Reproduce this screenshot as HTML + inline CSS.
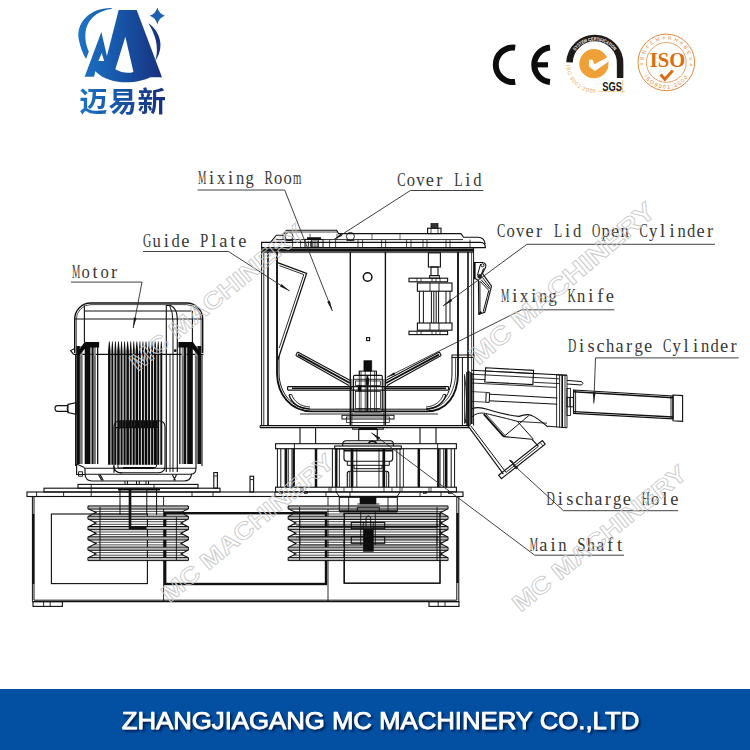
<!DOCTYPE html>
<html><head><meta charset="utf-8"><title>MC Machinery mixer diagram</title>
<style>
html,body{margin:0;padding:0;background:#fff}
body{width:750px;height:750px;overflow:hidden;font-family:"Liberation Sans",sans-serif}
svg{display:block}
svg text{font-family:"Liberation Sans",sans-serif}
.lb text{font-family:"Liberation Serif",serif;font-size:18.4px;fill:#383838;text-anchor:middle}
.mono{font-family:"Liberation Mono",monospace}
</style></head><body>
<svg width="750" height="750" viewBox="0 0 750 750">
<defs>
<linearGradient id="lg" gradientUnits="userSpaceOnUse" x1="78" y1="0" x2="164" y2="0">
<stop offset="0" stop-color="#1c74c6"/><stop offset="0.45" stop-color="#1758ab"/><stop offset="1" stop-color="#182f7c"/>
</linearGradient>
<filter id="ts" x="-5%" y="-30%" width="110%" height="180%">
<feGaussianBlur in="SourceAlpha" stdDeviation="1.3"/><feOffset dx="1.6" dy="2.2" result="b"/>
<feFlood flood-color="#04173f" flood-opacity="0.85"/><feComposite in2="b" operator="in"/>
<feMerge><feMergeNode/><feMergeNode in="SourceGraphic"/></feMerge>
</filter>
<path id="sgsTop" d="M575.3 50.9 A23.6 23.6 0 0 1 614.6 51.4"/>
<path id="sgsBot" d="M566.3 65 A28.5 28.5 0 0 0 598 92.6"/>
<path id="isoBot" d="M643.9 76.2 A26.3 26.3 0 0 0 688.7 76.2"/>
<path id="isoTop" d="M643.6 65.5 A22.9 22.9 0 1 1 689 65.5"/>
</defs>
<clipPath id="logoClip">
<path transform="translate(70,0) scale(0.133333)" clip-rule="evenodd" d="M110 575 L235 240 L277 420 L365 75 L500 75 L690 580 L602 580 C520 625 300 650 190 535 L180 575 Z M415 275 L340 520 C385 548 440 552 476 540 Z M238 398 L213 457 L256 457 Z"/>
<path transform="translate(70,0) scale(0.133333)" d="M312 60 C150 58 38 170 68 305 C78 352 95 400 120 442 L141 386 C114 330 104 250 130 190 C160 120 230 76 312 68 Z"/>
<path transform="translate(70,0) scale(0.133333)" d="M588 174 C660 222 722 335 640 458 C672 350 636 250 588 174 Z"/>
<text x="79.2 108.4 137.6" y="112.2" font-size="28.4" font-weight="bold" style="font-family:'Liberation Sans','Noto Sans CJK SC',sans-serif">迈易新</text>
</clipPath>
<rect x="70" y="0" width="100" height="120" fill="url(#lg)" clip-path="url(#logoClip)"/>
<path transform="translate(70,0) scale(0.133333)" fill="#1a5fb0" d="M655 56 Q668 104 712 118 Q668 132 655 182 Q642 132 598 118 Q642 104 655 56 Z"/>
<g id="ce" fill="none" stroke="#0d0d0d" stroke-width="6">
<path d="M515.2 47.63 A17.3 17.3 0 1 0 515.2 81.97"/>
<path d="M550 47.57 A17.3 17.3 0 0 0 550 82.03"/>
<path d="M535 64.8 L548 64.8" stroke-width="5.2"/>
</g>
<g id="sgs">
<path d="M569.5 62.4 A25.3 25.3 0 0 1 620.1 64.2 L620.1 77.9" fill="none" stroke="#1d1a18" stroke-width="6.5"/>
<text font-size="4.7" font-weight="bold" fill="#fff" textLength="45.5" lengthAdjust="spacingAndGlyphs"><textPath href="#sgsTop" startOffset="0">SYSTEM CERTIFICATION</textPath></text>
<circle cx="593.9" cy="63.7" r="14.6" fill="#efa037"/>
<path d="M588.9 59.7 L592.5 59.7 L594.3 64.3 L608 57 L608 62 L595 71.1 L588.9 66.4 Z" fill="#fff"/>
<text font-size="5.4" fill="#eb9c3a" textLength="45" lengthAdjust="spacing"><textPath href="#sgsBot" startOffset="0">ISO 9001:2000</textPath></text>
<text x="602.2" y="91" font-size="12.4" font-weight="bold" fill="#151515" textLength="19.7" lengthAdjust="spacingAndGlyphs">SGS</text>
<path d="M598 91.4 L625 91.4 M622.6 80 L622.6 93.3" stroke="#efa94f" stroke-width="0.6" fill="none"/>
</g>
<g id="iso">
<circle cx="666.3" cy="62.4" r="28.3" fill="none" stroke="#e07a25" stroke-width="0.9"/>
<circle cx="666.3" cy="62.4" r="19.9" fill="none" stroke="#e07a25" stroke-width="0.7"/>
<text font-size="5" fill="#e38a42" textLength="78" lengthAdjust="spacing"><textPath href="#isoTop" startOffset="0">#BH#EM#RH#BEK#</textPath></text>
<path d="M660.6 74.6 L664.8 79.2 L672.8 70.6" fill="none" stroke-width="3" stroke="#dd6d12"/>
<text x="667.6" y="67.3" style="font-family:'Liberation Serif',serif" font-size="22" font-weight="bold" text-anchor="middle" fill="#dd6d12" textLength="35.5" lengthAdjust="spacingAndGlyphs">ISO</text>
<text font-size="5.4" fill="#e07a25" textLength="52" lengthAdjust="spacing"><textPath href="#isoBot" startOffset="0">ISO9001:2000</textPath></text>
</g>
<rect x="0" y="689" width="750" height="61" fill="#0350a3"/>
<text x="121.8" y="728.8" font-size="24.6" fill="#fff" stroke="#fff" stroke-width="0.75" stroke-linejoin="round" filter="url(#ts)" textLength="517.5" lengthAdjust="spacingAndGlyphs">ZHANGJIAGANG MC MACHINERY CO.,LTD</text>
<g id="machine" fill="none" stroke="#111" stroke-width="1.1" stroke-linecap="butt">
<path d="M74.7 353 V319 A16 16 0 0 1 90.7 303 H186.7 A16 16 0 0 1 202.7 319 V353" stroke-width="1.38" />
<path d="M76.3 353 V319.5 A14.8 14.8 0 0 1 91 304.6 H186.4 A14.8 14.8 0 0 1 201.1 319.5 V353" stroke-width="0.75" />
<path d="M74.7 348.5 L70.6 350.6 L73.6 354.4" stroke-width="1.12" />
<path d="M73.6 354.4H203.4" stroke-width="1.25" />
<path d="M84.4 305.5V342" stroke-width="1.12" />
<path d="M192.4 311V342" stroke-width="1.12" />
<path d="M84.4 311H192.4" stroke-width="1.12" />
<path d="M75 319H202.4" stroke-width="1.12" />
<path d="M166.3 472 V305.5 H170.6 Q177.3 308.5 177.3 319 V472" stroke-width="1.12" />
<path d="M169.6 305.5 Q173 312 173 322 V472" stroke-width="1.0" />
<path d="M170 354.4V472" stroke-width="0.88" />
<circle cx="175.2" cy="350.7" r="1.4" fill="#111" stroke="none"/>
<rect x="179.2" y="346" width="1.3" height="118" fill="#111" stroke="none"/>
<rect x="181.6" y="346" width="2.4" height="118" fill="#8c8c8c" stroke="none"/>
<rect x="184" y="346" width="2" height="118" fill="#111" stroke="none"/>
<rect x="186.3" y="346" width="0.7" height="118" fill="#999" stroke="none"/>
<rect x="187.2" y="346" width="5.6" height="118" fill="#0b0b0b" stroke="none"/>
<rect x="194.8" y="346" width="2.8" height="118" fill="#8c8c8c" stroke="none"/>
<rect x="197.6" y="346" width="3.6" height="118" fill="#111" stroke="none"/>
<path d="M178.4 342 L193 342 L201.4 354.4 L197.6 354.4 L191.4 347.5 L178.4 347.5 Z" fill="#0b0b0b" stroke="none"/>
<path d="M182.4 356V464" stroke="#444" stroke-width="0.4"/>
<path d="M183.2 356V464" stroke="#444" stroke-width="0.4"/>
<path d="M195.6 356V464" stroke="#444" stroke-width="0.4"/>
<path d="M196.6 356V464" stroke="#444" stroke-width="0.4"/>
<rect x="97.0" y="346" width="1.3" height="118" fill="#111" stroke="none"/>
<rect x="93.5" y="346" width="2.4" height="118" fill="#8c8c8c" stroke="none"/>
<rect x="91.5" y="346" width="2.0" height="118" fill="#111" stroke="none"/>
<rect x="90.5" y="346" width="0.7" height="118" fill="#999" stroke="none"/>
<rect x="84.7" y="346" width="5.6" height="118" fill="#0b0b0b" stroke="none"/>
<rect x="79.9" y="346" width="2.8" height="118" fill="#8c8c8c" stroke="none"/>
<rect x="76.3" y="346" width="3.6" height="118" fill="#111" stroke="none"/>
<path d="M99.1 342 L84.5 342 L76.1 354.4 L79.9 354.4 L86.1 347.5 L99.1 347.5 Z" fill="#0b0b0b" stroke="none"/>
<path d="M95.1 356V464" stroke="#444" stroke-width="0.4"/>
<path d="M94.3 356V464" stroke="#444" stroke-width="0.4"/>
<path d="M81.9 356V464" stroke="#444" stroke-width="0.4"/>
<path d="M80.9 356V464" stroke="#444" stroke-width="0.4"/>
<path d="M75.6 354.4V466" stroke-width="1.12" />
<path d="M202 354.4V466" stroke-width="1.12" />
<path d="M108.95 341.6 H109.65 L110.55 351 V464.7 H108.05 V351 Z" fill="#0d0d0d" stroke="none"/>
<path d="M112.01 341.6 H112.71 L113.34 351 V464.7 H111.38 V351 Z" fill="#0d0d0d" stroke="none"/>
<path d="M115.07 341.6 H115.77 L116.40 351 V464.7 H114.44 V351 Z" fill="#0d0d0d" stroke="none"/>
<path d="M118.13 341.6 H118.83 L119.73 351 V464.7 H117.23 V351 Z" fill="#0d0d0d" stroke="none"/>
<path d="M121.19 341.6 H121.89 L122.52 351 V464.7 H120.56 V351 Z" fill="#0d0d0d" stroke="none"/>
<path d="M124.24 341.6 H124.94 L125.57 351 V464.7 H123.61 V351 Z" fill="#0d0d0d" stroke="none"/>
<path d="M127.30 341.6 H128.00 L128.90 351 V464.7 H126.40 V351 Z" fill="#0d0d0d" stroke="none"/>
<path d="M130.36 341.6 H131.06 L131.69 351 V464.7 H129.73 V351 Z" fill="#0d0d0d" stroke="none"/>
<path d="M133.42 341.6 H134.12 L134.75 351 V464.7 H132.79 V351 Z" fill="#0d0d0d" stroke="none"/>
<path d="M136.48 341.6 H137.18 L138.08 351 V464.7 H135.58 V351 Z" fill="#0d0d0d" stroke="none"/>
<path d="M139.54 341.6 H140.24 L140.87 351 V464.7 H138.91 V351 Z" fill="#0d0d0d" stroke="none"/>
<path d="M142.60 341.6 H143.30 L143.93 351 V464.7 H141.97 V351 Z" fill="#0d0d0d" stroke="none"/>
<path d="M145.66 341.6 H146.36 L147.26 351 V464.7 H144.76 V351 Z" fill="#0d0d0d" stroke="none"/>
<path d="M148.71 341.6 H149.41 L150.04 351 V464.7 H148.08 V351 Z" fill="#0d0d0d" stroke="none"/>
<path d="M151.77 341.6 H152.47 L153.10 351 V464.7 H151.14 V351 Z" fill="#0d0d0d" stroke="none"/>
<path d="M154.83 341.6 H155.53 L156.43 351 V464.7 H153.93 V351 Z" fill="#0d0d0d" stroke="none"/>
<path d="M157.89 341.6 H158.59 L159.22 351 V464.7 H157.26 V351 Z" fill="#0d0d0d" stroke="none"/>
<path d="M160.95 341.6 H161.65 L162.28 351 V464.7 H160.32 V351 Z" fill="#0d0d0d" stroke="none"/>
<path d="M114 472.7 V427 Q114 420.7 120.5 420.7 H158.5 Q165 420.7 165 427 V466 Q165 472.7 158.5 472.7 H120.5 Q114 472.7 114 466" stroke-width="1.12" />
<path d="M118 468 V430 Q118 427.5 121 427.5 H153.5 Q156.7 427.5 156.7 430 V465 Q156.7 468 153.5 468 Z" stroke-width="1.0" />
<path d="M116 427.6H158" stroke-width="1.12" />
<path d="M123 468H154" stroke-width="2.0" />
<rect x="120.8" y="428" width="35.2" height="37" fill="#000" fill-opacity="0.22" stroke="none"/>
<path d="M119.18 421 H120.88 V427.5 H119.18 Z" fill="#0d0d0d" stroke="none"/>
<path d="M122.24 421 H123.94 V427.5 H122.24 Z" fill="#0d0d0d" stroke="none"/>
<path d="M125.29 421 H126.99 V427.5 H125.29 Z" fill="#0d0d0d" stroke="none"/>
<path d="M128.35 421 H130.05 V427.5 H128.35 Z" fill="#0d0d0d" stroke="none"/>
<path d="M131.41 421 H133.11 V427.5 H131.41 Z" fill="#0d0d0d" stroke="none"/>
<path d="M134.47 421 H136.17 V427.5 H134.47 Z" fill="#0d0d0d" stroke="none"/>
<path d="M137.53 421 H139.23 V427.5 H137.53 Z" fill="#0d0d0d" stroke="none"/>
<path d="M140.59 421 H142.29 V427.5 H140.59 Z" fill="#0d0d0d" stroke="none"/>
<path d="M143.65 421 H145.35 V427.5 H143.65 Z" fill="#0d0d0d" stroke="none"/>
<path d="M146.71 421 H148.41 V427.5 H146.71 Z" fill="#0d0d0d" stroke="none"/>
<path d="M149.76 421 H151.46 V427.5 H149.76 Z" fill="#0d0d0d" stroke="none"/>
<path d="M152.82 421 H154.52 V427.5 H152.82 Z" fill="#0d0d0d" stroke="none"/>
<path d="M155.88 421 H157.58 V427.5 H155.88 Z" fill="#0d0d0d" stroke="none"/>
<path d="M68 405.6 H57.5 Q55 405.6 55 408.5 Q55 411.4 57.5 411.4 H68" stroke-width="1.12" />
<path d="M68 404.4 L76 402.6 V414.2 L68 412.6 Z" stroke-width="1.12" />
<path d="M68 404.4 Q66.3 408.5 68 412.6" stroke-width="1.0" />
<path d="M76.6 464 V474.5 H85 V468.3" stroke-width="1.12" />
<path d="M76.6 464 L84.5 467.6" stroke-width="1.12" />
<path d="M84 468.3H196" stroke-width="1.12" />
<path d="M85 474.3H192" stroke-width="1.12" />
<path d="M85 474.3 Q85.6 481 92 481 H184 Q190.5 481 191.5 474.3" stroke-width="1.12" />
<path d="M113.5 466 Q114.5 473 122 473" stroke-width="1.0" />
<path d="M98.5 474.5 L101.8 480.6 M100 474.5 L103.4 480.6" stroke-width="1.12" />
<path d="M172.2 474.5 L175.4 480.6 M176.6 474.5 L173.6 480.6" stroke-width="1.12" />
<path d="M196 464 V468.3 Q196 474 191 474.3" stroke-width="1.12" />
<path d="M125 481V484.4" stroke-width="1.0" />
<path d="M127.5 481V484.4" stroke-width="1.0" />
<path d="M136.5 481V484.4" stroke-width="1.0" />
<path d="M139.3 481V484.4" stroke-width="1.0" />
<path d="M146 481V484.4" stroke-width="1.0" />
<path d="M148.5 481V484.4" stroke-width="1.0" />
<rect x="78.6" y="471.8" width="3.8" height="4.4" stroke-width="0.88"/>
<rect x="78" y="484.4" width="120" height="3.8" stroke-width="1.12"/>
<path d="M91.2 484.4V492" stroke-width="0.88" />
<path d="M154 484.4V488.2" stroke-width="0.88" />
<rect x="213.8" y="472.6" width="3.6" height="15.6" stroke-width="1.12"/>
<path d="M213.8 476H217.4" stroke-width="0.88" />
<rect x="250" y="476.2" width="3.6" height="15.8" stroke-width="1.12"/>
<path d="M250 479.6H253.6" stroke-width="0.88" />
<rect x="44" y="488.2" width="176" height="3.8" stroke-width="1.12"/>
<rect x="27" y="492" width="436" height="4.5" stroke-width="1.12"/>
<path d="M36.6 492V496.5" stroke-width="0.88" />
<path d="M63.6 492V496.5" stroke-width="0.88" />
<path d="M91.2 492V496.5" stroke-width="0.88" />
<path d="M192 492V496.5" stroke-width="0.88" />
<path d="M213 492V496.5" stroke-width="0.88" />
<path d="M275 492V496.5" stroke-width="0.88" />
<path d="M326 492V496.5" stroke-width="0.88" />
<path d="M350 492V496.5" stroke-width="0.88" />
<path d="M420 492V496.5" stroke-width="0.88" />
<path d="M441 492V496.5" stroke-width="0.88" />
<path d="M32.4 496.5 V601.3 M34 496.5 V600" stroke-width="1.0" />
<path d="M456.8 496.5 V600 M458.8 496.5 V601.3" stroke-width="1.0" />
<path d="M34 600.2H456.8" stroke-width="1.0" />
<path d="M32.4 601.6H458.8" stroke-width="1.25" />
<path d="M33.2 514V584" stroke-width="2.25" />
<path d="M457.6 513V583" stroke-width="2.25" />
<rect x="33" y="601.6" width="29.4" height="4.8" stroke-width="1.12"/>
<path d="M43.6 601.6V606.4" stroke-width="0.88" />
<path d="M50.2 601.6V606.4" stroke-width="0.88" />
<rect x="429" y="601.6" width="30" height="4.8" stroke-width="1.12"/>
<path d="M438.2 601.6V606.4" stroke-width="0.88" />
<path d="M445 601.6V606.4" stroke-width="0.88" />
<rect x="51.4" y="514" width="96.0" height="69.6" stroke-width="1.12"/>
<rect x="344" y="513.4" width="96" height="69.8" stroke-width="1.12"/>
<path d="M163.6 496.5V601" stroke-width="0.88" />
<path d="M328 496.5V601" stroke-width="0.88" />
<rect x="165.2" y="513.2" width="160.8" height="70.8" stroke-width="2.38"/>
<rect x="88.6" y="506.0" width="99.2" height="3" fill="#b4b4b4" stroke="none"/>
<rect x="88.6" y="516.3" width="99.2" height="3" fill="#b4b4b4" stroke="none"/>
<rect x="88.6" y="526.6" width="99.2" height="3" fill="#b4b4b4" stroke="none"/>
<rect x="88.6" y="536.9" width="99.2" height="3" fill="#b4b4b4" stroke="none"/>
<rect x="88.6" y="547.2" width="99.2" height="3" fill="#b4b4b4" stroke="none"/>
<rect x="88.6" y="557.5" width="99.2" height="3" fill="#b4b4b4" stroke="none"/>
<path d="M89 505.9 L88 506.3 L88 508.7 L96 512.6 L88 516.6 L88 519.0 L96 522.9 L88 526.9 L88 529.3 L96 533.2 L88 537.2 L88 539.6 L96 543.5 L88 547.5 L88 549.9 L96 553.9 L88 557.8 L88 560.2 L89 560.6" stroke-width="1.12" />
<path d="M187.4 505.9 L188.4 506.3 L188.4 508.7 L181 512.6 L188.4 516.6 L188.4 519.0 L181 522.9 L188.4 526.9 L188.4 529.3 L181 533.2 L188.4 537.2 L188.4 539.6 L181 543.5 L188.4 547.5 L188.4 549.9 L181 553.9 L188.4 557.8 L188.4 560.2 L187.4 560.6" stroke-width="1.12" />
<path d="M88.5 505.9H187.9" stroke-width="1.0" />
<path d="M88.5 509.1H187.9" stroke-width="1.0" />
<path d="M94 511.4H183" stroke-width="0.75" />
<path d="M94 514.0H183" stroke-width="0.75" />
<path d="M88.5 516.2H187.9" stroke-width="1.0" />
<path d="M88.5 519.4H187.9" stroke-width="1.0" />
<path d="M94 521.7H183" stroke-width="0.75" />
<path d="M94 524.3H183" stroke-width="0.75" />
<path d="M88.5 526.5H187.9" stroke-width="1.0" />
<path d="M88.5 529.7H187.9" stroke-width="1.0" />
<path d="M94 532.0H183" stroke-width="0.75" />
<path d="M94 534.6H183" stroke-width="0.75" />
<path d="M88.5 536.8H187.9" stroke-width="1.0" />
<path d="M88.5 540.0H187.9" stroke-width="1.0" />
<path d="M94 542.3H183" stroke-width="0.75" />
<path d="M94 544.9H183" stroke-width="0.75" />
<path d="M88.5 547.1H187.9" stroke-width="1.0" />
<path d="M88.5 550.3H187.9" stroke-width="1.0" />
<path d="M94 552.6H183" stroke-width="0.75" />
<path d="M94 555.2H183" stroke-width="0.75" />
<path d="M88.5 557.4H187.9" stroke-width="1.0" />
<path d="M88.5 560.6H187.9" stroke-width="1.0" />
<rect x="288.8" y="506.0" width="158.6" height="3" fill="#b4b4b4" stroke="none"/>
<rect x="288.8" y="516.3" width="158.6" height="3" fill="#b4b4b4" stroke="none"/>
<rect x="288.8" y="526.6" width="158.6" height="3" fill="#b4b4b4" stroke="none"/>
<rect x="288.8" y="536.9" width="158.6" height="3" fill="#b4b4b4" stroke="none"/>
<rect x="288.8" y="547.2" width="158.6" height="3" fill="#b4b4b4" stroke="none"/>
<rect x="288.8" y="557.5" width="158.6" height="3" fill="#b4b4b4" stroke="none"/>
<path d="M289.2 505.9 L288.2 506.3 L288.2 508.7 L295.8 512.6 L288.2 516.6 L288.2 519.0 L295.8 522.9 L288.2 526.9 L288.2 529.3 L295.8 533.2 L288.2 537.2 L288.2 539.6 L295.8 543.5 L288.2 547.5 L288.2 549.9 L295.8 553.9 L288.2 557.8 L288.2 560.2 L289.2 560.6" stroke-width="1.12" />
<path d="M447 505.9 L448 506.3 L448 508.7 L440.6 512.6 L448 516.6 L448 519.0 L440.6 522.9 L448 526.9 L448 529.3 L440.6 533.2 L448 537.2 L448 539.6 L440.6 543.5 L448 547.5 L448 549.9 L440.6 553.9 L448 557.8 L448 560.2 L447 560.6" stroke-width="1.12" />
<path d="M288.7 505.9H447.5" stroke-width="1.0" />
<path d="M288.7 509.1H447.5" stroke-width="1.0" />
<path d="M293.8 511.4H442.6" stroke-width="0.75" />
<path d="M293.8 514.0H442.6" stroke-width="0.75" />
<path d="M288.7 516.2H447.5" stroke-width="1.0" />
<path d="M288.7 519.4H447.5" stroke-width="1.0" />
<path d="M293.8 521.7H442.6" stroke-width="0.75" />
<path d="M293.8 524.3H442.6" stroke-width="0.75" />
<path d="M288.7 526.5H447.5" stroke-width="1.0" />
<path d="M288.7 529.7H447.5" stroke-width="1.0" />
<path d="M293.8 532.0H442.6" stroke-width="0.75" />
<path d="M293.8 534.6H442.6" stroke-width="0.75" />
<path d="M288.7 536.8H447.5" stroke-width="1.0" />
<path d="M288.7 540.0H447.5" stroke-width="1.0" />
<path d="M293.8 542.3H442.6" stroke-width="0.75" />
<path d="M293.8 544.9H442.6" stroke-width="0.75" />
<path d="M288.7 547.1H447.5" stroke-width="1.0" />
<path d="M288.7 550.3H447.5" stroke-width="1.0" />
<path d="M293.8 552.6H442.6" stroke-width="0.75" />
<path d="M293.8 555.2H442.6" stroke-width="0.75" />
<path d="M288.7 557.4H447.5" stroke-width="1.0" />
<path d="M288.7 560.6H447.5" stroke-width="1.0" />
<path d="M100 507V560.5" stroke-width="1.0" />
<path d="M176.4 517V560.5" stroke-width="0.88" />
<path d="M299.6 507V560.5" stroke-width="0.88" />
<path d="M437 507V560.5" stroke-width="0.88" />
<path d="M130 489 V528 H146.6" stroke-width="2.62" />
<path d="M120 489V515" stroke-width="1.0" />
<path d="M146.8 489V514" stroke-width="1.0" />
<path d="M156.6 489V515" stroke-width="1.0" />
<path d="M118 489.4H160" stroke-width="2.0" />
<path d="M260 425.6H469.5" stroke-width="1.12" />
<path d="M260 427.6H469.5" stroke-width="1.12" />
<path d="M260 425.6V427.6" stroke-width="1.0" />
<path d="M300 427.6V443.7" stroke-width="1.12" />
<path d="M315.6 427.6V443.7" stroke-width="1.12" />
<path d="M420 427.6V443.7" stroke-width="1.12" />
<path d="M436 427.6V443.7" stroke-width="1.12" />
<rect x="275.6" y="443.7" width="180.8" height="5.0" stroke-width="1.12"/>
<path d="M294.4 443.7V448.7" stroke-width="0.88" />
<path d="M437.6 443.7V448.7" stroke-width="0.88" />
<rect x="275.6" y="487.2" width="180.8" height="4.7" stroke-width="1.12"/>
<path d="M301 487.2V491.9" stroke-width="0.75" />
<path d="M303 487.2V491.9" stroke-width="0.75" />
<path d="M329 487.2V491.9" stroke-width="0.75" />
<path d="M331 487.2V491.9" stroke-width="0.75" />
<path d="M336 487.2V491.9" stroke-width="0.75" />
<path d="M344 487.2V491.9" stroke-width="0.75" />
<path d="M352 487.2V491.9" stroke-width="0.75" />
<path d="M384 487.2V491.9" stroke-width="0.75" />
<path d="M392 487.2V491.9" stroke-width="0.75" />
<path d="M400 487.2V491.9" stroke-width="0.75" />
<path d="M402 487.2V491.9" stroke-width="0.75" />
<path d="M429 487.2V491.9" stroke-width="0.75" />
<path d="M431 487.2V491.9" stroke-width="0.75" />
<rect x="279.4" y="491.9" width="3.2" height="1.7" stroke-width="0.75"/>
<rect x="304.4" y="491.9" width="3.2" height="1.7" stroke-width="0.75"/>
<rect x="423.4" y="491.9" width="3.2" height="1.7" stroke-width="0.75"/>
<rect x="448.4" y="491.9" width="3.2" height="1.7" stroke-width="0.75"/>
<path d="M277.4 448.7V487.2" stroke-width="1.0" />
<path d="M280.8 448.7V487.2" stroke-width="1.0" />
<path d="M285.8 448.7V487.2" stroke-width="2.5" />
<path d="M288.2 448.7V487.2" stroke-width="1.0" />
<path d="M292 448.7V487.2" stroke-width="1.0" />
<path d="M293.8 448.7V487.2" stroke-width="2.25" />
<path d="M316 448.7V487.2" stroke-width="2.5" />
<path d="M332.4 448.7V487.2" stroke-width="1.0" />
<path d="M335.4 448.7V487.2" stroke-width="1.0" />
<path d="M336.6 448.7V487.2" stroke-width="1.75" />
<path d="M339.4 448.7V487.2" stroke-width="0.88" />
<path d="M454.6 448.7V487.2" stroke-width="1.0" />
<path d="M451.2 448.7V487.2" stroke-width="1.0" />
<path d="M446.2 448.7V487.2" stroke-width="2.5" />
<path d="M443.8 448.7V487.2" stroke-width="1.0" />
<path d="M440 448.7V487.2" stroke-width="1.0" />
<path d="M438.2 448.7V487.2" stroke-width="2.25" />
<path d="M418.8 448.7V487.2" stroke-width="2.5" />
<path d="M400 448.7V487.2" stroke-width="1.0" />
<path d="M396.8 448.7V487.2" stroke-width="1.0" />
<path d="M403.4 448.7V487.2" stroke-width="0.88" />
<rect x="342" y="415.3" width="52" height="3.7" stroke-width="1.0"/>
<rect x="350.7" y="415.3" width="34.6" height="10.3" stroke-width="1.0"/>
<rect x="346.5" y="417" width="43.0" height="5.5" stroke-width="0.75"/>
<rect x="352.7" y="427.6" width="30.6" height="1.6" stroke-width="1.0"/>
<path d="M358.7 428.8H377.3" stroke-width="2.5" />
<path d="M358.7 429V440.7" stroke-width="1.12" />
<path d="M377.3 429V440.7" stroke-width="1.12" />
<path d="M342.7 446 V444 Q342.7 440.7 346.4 440.7 H390.3 Q393.4 440.7 393.4 444 V446" stroke-width="1.12" />
<path d="M343 443.3H393" stroke-width="0.88" />
<path d="M368.6 443.2 Q369.4 441.2 372 441.2 Q375.6 441.2 376.4 443.2" stroke-width="1.38" />
<rect x="334.7" y="446" width="66.6" height="2.9" stroke-width="1.12"/>
<path d="M344 448.9 V458.5 Q344 461.3 347 461.3 H389.7 Q392.7 461.3 392.7 458.5 V448.9" stroke-width="1.12" />
<path d="M344 450.6H392.7" stroke-width="1.88" />
<path d="M347.3 461.3 V465.3 H389.3 V461.3" stroke-width="1.0" />
<path d="M354 465.3 V468.7 H382 V465.3" stroke-width="1.0" />
<path d="M347.3 487.2 V473.5 Q347.3 471.3 349.6 471.3 H386.4 Q388.7 471.3 388.7 473.5 V487.2" stroke-width="1.12" />
<path d="M352 449V487.2" stroke-width="2.75" />
<path d="M383.8 449V487.2" stroke-width="2.75" />
<path d="M356.8 449V487.2" stroke-width="0.88" />
<path d="M379 449V487.2" stroke-width="0.88" />
<path d="M349.4 471.3V487.2" stroke-width="0.75" />
<path d="M386.6 471.3V487.2" stroke-width="0.75" />
<path d="M336 491.9 L339.3 496.4 H397.3 L400 491.9" stroke-width="1.0" />
<path d="M339.3 496.8H397.3" stroke-width="1.75" />
<rect x="360" y="496.8" width="16" height="7.2" stroke-width="0.62" fill="#0d0d0d"/>
<rect x="339.3" y="496.8" width="58.0" height="14.5" stroke-width="1.0"/>
<path d="M339.3 511.3H397.3" stroke-width="2.25" />
<path d="M348.7 496.8V511.3" stroke-width="0.88" />
<path d="M388 496.8V511.3" stroke-width="0.88" />
<path d="M357.3 511.3 V507.3 H379.3 V511.3" stroke-width="1.0" />
<path d="M357.3 504H379.3" stroke-width="0.88" />
<rect x="344.4" y="513.4" width="95.6" height="69.8" stroke-width="1.12"/>
<rect x="363.3" y="529.3" width="10.0" height="22.0" stroke-width="0.62" fill="#0d0d0d"/>
<path d="M366 529 V518 Q368.4 513.6 370.7 518 V529" stroke-width="1.0" />
<rect x="351.3" y="522.4" width="33.4" height="6.3" stroke-width="1.12"/>
<rect x="351.3" y="536.7" width="33.4" height="6.6" stroke-width="1.12"/>
<path d="M360.7 511.3V545" stroke-width="0.88" />
<path d="M375.3 511.3V545" stroke-width="0.88" />
<path d="M363.3 522.4V529" stroke-width="0.88" />
<path d="M373.3 522.4V529" stroke-width="0.88" />
<path d="M296 525.8H440" stroke-width="0.62" />
<path d="M296 537H440" stroke-width="0.62" />
<rect x="300" y="519.6" width="137" height="8.0" stroke-width="0.75"/>
<rect x="300" y="536" width="137" height="9" stroke-width="0.75"/>
<path d="M261.6 242.4 H480.5 Q485.4 242.6 485.4 247.6 H261.6 Z" stroke-width="1.12" />
<path d="M262 250.2H474" stroke-width="3.25" />
<path d="M262 252.6H474" stroke-width="0.75" />
<path d="M270.5 242.4 L276.4 235.2 H283 L286.4 230.2 H336.6 L338.6 233.6 H461" stroke-width="1.12" />
<path d="M287 232H337" stroke-width="0.75" />
<path d="M461 233.6 L463.5 237.2 H478 Q484.6 237.6 485.2 244" stroke-width="1.12" />
<path d="M276 239.6H463" stroke-width="0.88" />
<path d="M292.6 239.6V247.4" stroke-width="0.75" />
<path d="M300.6 239.6V247.4" stroke-width="0.75" />
<path d="M329.6 239.6V247.4" stroke-width="0.75" />
<path d="M335.6 239.6V247.4" stroke-width="0.75" />
<path d="M358 239.6V247.4" stroke-width="0.75" />
<path d="M362.6 239.6V247.4" stroke-width="0.75" />
<path d="M381.6 239.6V247.4" stroke-width="0.75" />
<path d="M385.6 239.6V247.4" stroke-width="0.75" />
<path d="M406.6 239.6V247.4" stroke-width="0.75" />
<path d="M411 239.6V247.4" stroke-width="0.75" />
<path d="M423 239.6V247.4" stroke-width="0.75" />
<path d="M427 239.6V247.4" stroke-width="0.75" />
<path d="M446 239.6V247.4" stroke-width="0.75" />
<path d="M450 239.6V247.4" stroke-width="0.75" />
<path d="M470 239.6V247.4" stroke-width="0.75" />
<path d="M283 233.6V239.6" stroke-width="0.62" />
<path d="M310 233.6V239.6" stroke-width="0.62" />
<path d="M337 233.6V239.6" stroke-width="0.62" />
<path d="M372 233.6V239.6" stroke-width="0.62" />
<path d="M400 233.6V239.6" stroke-width="0.62" />
<circle cx="289" cy="236.4" r="4" stroke-width="0.9"/>
<circle cx="350.4" cy="236.4" r="4" stroke-width="0.9"/>
<path d="M285 240.6H293" stroke-width="0.88" />
<path d="M346.4 240.6H354.4" stroke-width="0.88" />
<rect x="305" y="239.4" width="18" height="8.0" stroke-width="1.0"/>
<path d="M307 238.6 H321" stroke-width="2.75" />
<path d="M308.4 241.2V246.6" stroke-width="0.88" />
<path d="M310.6 241.2V246.6" stroke-width="0.88" />
<path d="M312.8 241.2V246.6" stroke-width="0.88" />
<path d="M315 241.2V246.6" stroke-width="0.88" />
<path d="M317.2 241.2V246.6" stroke-width="0.88" />
<rect x="311.6" y="240" width="6.8" height="7" stroke-width="0.75"/>
<rect x="427.6" y="228.2" width="13.4" height="5.4" stroke-width="1.12"/>
<rect x="431" y="223.6" width="7" height="4.6" stroke-width="0.75" fill="#333"/>
<path d="M431 228.2V233.6" stroke-width="0.75" />
<path d="M438 228.2V233.6" stroke-width="0.75" />
<path d="M261.6 247.6V425.6" stroke-width="1.0" />
<path d="M263.8 252V425.6" stroke-width="0.88" />
<path d="M268 252V425.6" stroke-width="1.62" />
<path d="M468 252V425.6" stroke-width="1.62" />
<path d="M473.6 247.6V425.6" stroke-width="1.0" />
<path d="M471.6 252V380" stroke-width="0.75" />
<path d="M462.4 357V425.6" stroke-width="1.0" />
<path d="M277 252 V374 C277.6 394 290 411.4 312 411.4 H426 C447 411.4 457.6 395 458 374 V252" stroke-width="1.88" />
<path d="M300 414H438" stroke-width="0.88" />
<path d="M279 356 V374 C279.6 392 291 409.2 312 409.2 H426 C442 409.2 451.6 393 452 374 V357" stroke-width="1.0" />
<path d="M455.6 357.4 V374 C455.2 392 445 409.2 426 409.2" stroke-width="0.75" />
<path d="M350.3 252V425.6" stroke-width="1.38" />
<path d="M385.4 252V425.6" stroke-width="1.38" />
<path d="M277.6 262.6 L306.6 273.4 L277.8 360" stroke-width="1.25" />
<path d="M279.4 265.6 L303.8 274.6 L279.2 348" stroke-width="0.88" />
<circle cx="367.6" cy="277" r="4.3" stroke-width="1.5"/>
<rect x="366.6" y="337.6" width="3.0" height="3.0" stroke-width="1.12"/>
<rect x="363.9" y="360.7" width="7.9" height="10.4" stroke-width="0.62" fill="#0d0d0d"/>
<rect x="359.3" y="371.1" width="17.1" height="4.3" stroke-width="1.0"/>
<rect x="353.5" y="375.4" width="28.8" height="36.6" stroke-width="1.12" rx="1.2"/>
<path d="M353.5 379.3H382.3" stroke-width="0.88" />
<rect x="355.4" y="381" width="25.2" height="4.6" stroke-width="0.75"/>
<rect x="355.4" y="391.4" width="25.2" height="17.0" stroke-width="0.75"/>
<path d="M359.3 371.1V412" stroke-width="0.75" />
<path d="M361 371.1V412" stroke-width="0.75" />
<path d="M365.2 371.1V412" stroke-width="0.75" />
<path d="M370.5 371.1V412" stroke-width="0.75" />
<path d="M374.6 371.1V412" stroke-width="0.75" />
<path d="M376.4 371.1V412" stroke-width="0.75" />
<path d="M367.4 375.4V412" stroke-width="1.88" />
<path d="M351.9 379V425.6" stroke-width="0.75" />
<path d="M383.9 379V425.6" stroke-width="0.75" />
<rect x="358" y="385.2" width="3" height="5.8" stroke-width="0.5" fill="#0d0d0d"/>
<rect x="366.2" y="378.4" width="2.6" height="6.2" stroke-width="0.5" fill="#0d0d0d"/>
<path d="M287.6 386.6 H448.6 M287.6 390 H448.6" stroke-width="1.25" />
<path d="M287.6 386.6 V390 M448.6 386.6 V390" stroke-width="1.12" />
<path d="M292 388.3H352" stroke-width="1.5" />
<path d="M384 388.3H446" stroke-width="1.5" />
<path d="M297.6 352 L350.3 380.4 M295.8 355.6 L349 385.4 M297.6 352 L295.8 355.6" stroke-width="1.12" />
<path d="M298 354.6 L349.8 383" stroke-width="1.88" />
<path d="M439.4 352 L385.6 380.4 M441.2 355.6 L387 385.4 M439.4 352 L441.2 355.6" stroke-width="1.12" />
<path d="M439 354.6 L386 383" stroke-width="1.88" />
<path d="M289 394.8 C291.6 403 298.4 408.4 310 409" stroke-width="1.25" />
<path d="M291.6 394.4 C294 401.4 300 406.4 310 407" stroke-width="0.88" />
<path d="M289 394.8 L291.6 394.4" stroke-width="1.0" />
<path d="M446 394.8 C443.4 403 436.6 408.4 426 409" stroke-width="1.25" />
<path d="M443.4 394.4 C441 401.4 435 406.4 426 407" stroke-width="0.88" />
<path d="M446 394.8 L443.4 394.4" stroke-width="1.0" />
<rect x="452" y="355" width="22" height="2.4" stroke-width="1.0"/>
<rect x="428.4" y="252.8" width="12.0" height="14.2" stroke-width="1.12"/>
<rect x="431" y="267" width="7" height="8.6" stroke-width="1.12"/>
<rect x="429.6" y="275.6" width="9.8" height="2.6" stroke-width="1.0"/>
<rect x="409" y="278.2" width="38.6" height="3.6" stroke-width="1.12"/>
<path d="M417 278.2V281.8" stroke-width="0.75" />
<path d="M421 278.2V281.8" stroke-width="0.75" />
<path d="M432 278.2V281.8" stroke-width="0.75" />
<path d="M436 278.2V281.8" stroke-width="0.75" />
<path d="M440 278.2V281.8" stroke-width="0.75" />
<rect x="417.4" y="283" width="34.6" height="8.2" stroke-width="1.12"/>
<path d="M430 283V291.2" stroke-width="0.88" />
<path d="M439 283V291.2" stroke-width="0.88" />
<rect x="417.4" y="323" width="34.6" height="7.2" stroke-width="1.12"/>
<path d="M430 323V330.2" stroke-width="0.88" />
<path d="M439 323V330.2" stroke-width="0.88" />
<path d="M419.4 291.2V323" stroke-width="1.0" />
<path d="M423.4 291.2V323" stroke-width="1.0" />
<path d="M431.4 291.2V323" stroke-width="1.0" />
<path d="M433.8 291.2V323" stroke-width="1.0" />
<path d="M436.2 291.2V323" stroke-width="1.0" />
<path d="M438.6 291.2V323" stroke-width="1.0" />
<path d="M446 291.2V323" stroke-width="1.0" />
<path d="M450 291.2V323" stroke-width="1.0" />
<rect x="409" y="331.2" width="38.6" height="3.4" stroke-width="1.12"/>
<path d="M417 331.2V334.6" stroke-width="0.75" />
<path d="M421 331.2V334.6" stroke-width="0.75" />
<path d="M432 331.2V334.6" stroke-width="0.75" />
<path d="M436 331.2V334.6" stroke-width="0.75" />
<path d="M440 331.2V334.6" stroke-width="0.75" />
<path d="M473.6 262.5 H482.5 A3.4 3.4 0 0 1 485.7 267 L482.4 273.4 L491.5 286.2 L484.8 312.2 L478.8 314.2 L478.4 280.4 L475.4 278.6 H473.6" stroke-width="1.12" />
<path d="M474.7 263V278.5" stroke-width="1.88" />
<circle cx="482.5" cy="265.3" r="1.5" stroke-width="1"/>
<circle cx="479.8" cy="276.4" r="2" fill="#222" stroke-width="0.8"/>
<path d="M480.6 264 L477.4 275.4 M483.6 268.4 L481 275" stroke-width="1.0" />
<path d="M480.4 281.6 L488.8 290.4 L483.2 311.6 M479.9 281 L480 313.4 M482.4 277.4 L490.2 287.8 M481 279.6 L489.6 289" stroke-width="1.0" />
<path d="M481.4 311.8 L478.8 314.2" stroke-width="2.0" />
<path d="M464.6 374.2 V423.8 M466.6 372 V425 M470.4 372 V425" stroke-width="0.88" />
<path d="M468.6 371V425.6" stroke-width="2.0" />
<path d="M471.8 373V424" stroke-width="1.62" />
<path d="M464.6 376 Q468 398 465.4 423" stroke-width="0.88" />
<path d="M471.8 370.2 L567 375.2" stroke-width="1.12" />
<path d="M471.8 374.2 L559.6 378.8" stroke-width="0.88" />
<path d="M471.8 379 L485.4 379.7" stroke-width="0.88" />
<path d="M533.4 382.3 L559.6 383.6" stroke-width="0.88" />
<path d="M471.8 383 L556.6 387.4" stroke-width="0.88" />
<path d="M485.6 367.8 L533.6 370.4 L532.8 384.6 L484.8 382 Z" stroke-width="1.12" />
<path d="M485.4 371 L533.4 373.6" stroke-width="0.75" />
<path d="M486.2 392.6 L489.6 392.8 L489.2 402.4 L485.8 402.2 Z" stroke-width="1.0" />
<path d="M489.6 394.2 L557.4 398" stroke-width="1.0" />
<path d="M489.4 400.8 L557.2 404.2" stroke-width="1.0" />
<path d="M471.8 391.6 L486.2 392.4" stroke-width="0.75" />
<path d="M471.8 401.4 L485.8 402.2" stroke-width="0.75" />
<path d="M556.6 374.8 V427 M559.6 375 V427.4 M565 375.2 V427.8 M567 375.2 V427.8" stroke-width="0.88" />
<path d="M562.2 375V427.6" stroke-width="1.62" />
<path d="M547.8 426.2 L567 427.8" stroke-width="1.0" />
<path d="M556.6 374.8 L567 375.2" stroke-width="1.0" />
<path d="M471.8 408.8 C476 407 481 407.2 487 409.2 C497 412.4 509 415.4 519 416.4 C524 414.6 528 414 531.6 415.4 C538 418 543 423 547.8 427" stroke-width="1.12" />
<path d="M471.8 417 C475 413.6 480 412.4 485.4 413.4 C496 416 509 419 517.4 421.4" stroke-width="1.0" />
<path d="M517.4 421.4 L547 423.2" stroke-width="0.88" />
<path d="M467.8 425.6 L503.4 474.2" stroke-width="1.12" />
<path d="M470.6 425.6 L506 472.4" stroke-width="1.0" />
<path d="M469.5 425.6 L464.8 419" stroke-width="0.88" />
<path d="M483.8 414.2 L503.8 436.6" stroke-width="1.88" />
<path d="M485.6 413.6 L505 435.4" stroke-width="0.75" />
<path d="M503.8 436.6 L531.8 439.2" stroke-width="1.12" />
<path d="M531.8 439.2 L538.4 446.4" stroke-width="1.12" />
<path d="M503.8 436.6 L528.8 415.6" stroke-width="1.0" />
<path d="M517.4 421.4 L533.4 439.2" stroke-width="1.0" />
<path d="M498.6 475.2 L542.4 440.6 L545.2 444.1 L501.4 478.7 Z" stroke-width="1.12" />
<path d="M506 472.4 L538.4 446.4" stroke-width="0.88" />
<path d="M540.2 442.4 L543 445.9" stroke-width="0.75" />
<path d="M509.6 460.4 L514.6 465.2 L512 461.2 Z" stroke-width="1.0" fill="#111" />
<rect x="567" y="397.4" width="6.4" height="9.4" stroke-width="1.0"/>
<path d="M569.4 397.4V406.8" stroke-width="0.75" />
<path d="M567 380.4 L581.6 381.6 Q584.4 383.4 581.4 385 L567 384" stroke-width="1.0" />
<rect x="567" y="388.4" width="3.4" height="27.0" stroke-width="0.88"/>
<path d="M573.6 390 L673 396 V418.8 L573.6 413.4 Z" stroke-width="1.25" />
<path d="M573.6 391.8 L673 397.8" stroke-width="1.38" />
<path d="M573.6 411.6 L673 417" stroke-width="1.38" />
<path d="M575.6 390.2V413.4" stroke-width="0.88" />
<path d="M671 396V418.6" stroke-width="0.88" />
<path d="M673 395 L682.6 395.6 V421.4 L673 420.8 Z" stroke-width="1.12" />
</g>
<g class="lb">
<text x="202.05" y="184.3" textLength="8.3" lengthAdjust="spacingAndGlyphs">M</text><text x="211.55" y="184.3">i</text><text x="221.05" y="184.3" textLength="8.3" lengthAdjust="spacingAndGlyphs">x</text><text x="230.55" y="184.3">i</text><text x="240.05" y="184.3" textLength="8.3" lengthAdjust="spacingAndGlyphs">n</text><text x="249.55" y="184.3" textLength="8.3" lengthAdjust="spacingAndGlyphs">g</text><text x="268.55" y="184.3" textLength="8.3" lengthAdjust="spacingAndGlyphs">R</text><text x="278.05" y="184.3" textLength="8.3" lengthAdjust="spacingAndGlyphs">o</text><text x="287.55" y="184.3" textLength="8.3" lengthAdjust="spacingAndGlyphs">o</text><text x="297.05" y="184.3" textLength="8.3" lengthAdjust="spacingAndGlyphs">m</text>
<text x="401.35" y="186.3" textLength="8.3" lengthAdjust="spacingAndGlyphs">C</text><text x="410.85" y="186.3" textLength="8.3" lengthAdjust="spacingAndGlyphs">o</text><text x="420.35" y="186.3" textLength="8.3" lengthAdjust="spacingAndGlyphs">v</text><text x="429.85" y="186.3">e</text><text x="439.35" y="186.3">r</text><text x="458.35" y="186.3" textLength="8.3" lengthAdjust="spacingAndGlyphs">L</text><text x="467.85" y="186.3">i</text><text x="477.35" y="186.3" textLength="8.3" lengthAdjust="spacingAndGlyphs">d</text>
<text x="147.25" y="247.2" textLength="8.3" lengthAdjust="spacingAndGlyphs">G</text><text x="156.75" y="247.2" textLength="8.3" lengthAdjust="spacingAndGlyphs">u</text><text x="166.25" y="247.2">i</text><text x="175.75" y="247.2" textLength="8.3" lengthAdjust="spacingAndGlyphs">d</text><text x="185.25" y="247.2">e</text><text x="204.25" y="247.2" textLength="8.3" lengthAdjust="spacingAndGlyphs">P</text><text x="213.75" y="247.2">l</text><text x="223.25" y="247.2">a</text><text x="232.75" y="247.2">t</text><text x="242.25" y="247.2">e</text>
<text x="76.05" y="278.1" textLength="8.3" lengthAdjust="spacingAndGlyphs">M</text><text x="85.55" y="278.1" textLength="8.3" lengthAdjust="spacingAndGlyphs">o</text><text x="95.05" y="278.1">t</text><text x="104.55" y="278.1" textLength="8.3" lengthAdjust="spacingAndGlyphs">o</text><text x="114.05" y="278.1">r</text>
<text x="501.15" y="237.2" textLength="8.3" lengthAdjust="spacingAndGlyphs">C</text><text x="510.65" y="237.2" textLength="8.3" lengthAdjust="spacingAndGlyphs">o</text><text x="520.15" y="237.2" textLength="8.3" lengthAdjust="spacingAndGlyphs">v</text><text x="529.65" y="237.2">e</text><text x="539.15" y="237.2">r</text><text x="558.15" y="237.2" textLength="8.3" lengthAdjust="spacingAndGlyphs">L</text><text x="567.65" y="237.2">i</text><text x="577.15" y="237.2" textLength="8.3" lengthAdjust="spacingAndGlyphs">d</text><text x="596.15" y="237.2" textLength="8.3" lengthAdjust="spacingAndGlyphs">O</text><text x="605.65" y="237.2" textLength="8.3" lengthAdjust="spacingAndGlyphs">p</text><text x="615.15" y="237.2">e</text><text x="624.65" y="237.2" textLength="8.3" lengthAdjust="spacingAndGlyphs">n</text><text x="643.65" y="237.2" textLength="8.3" lengthAdjust="spacingAndGlyphs">C</text><text x="653.15" y="237.2" textLength="8.3" lengthAdjust="spacingAndGlyphs">y</text><text x="662.65" y="237.2">l</text><text x="672.15" y="237.2">i</text><text x="681.65" y="237.2" textLength="8.3" lengthAdjust="spacingAndGlyphs">n</text><text x="691.15" y="237.2" textLength="8.3" lengthAdjust="spacingAndGlyphs">d</text><text x="700.65" y="237.2">e</text><text x="710.15" y="237.2">r</text>
<text x="505.25" y="302.0" textLength="8.3" lengthAdjust="spacingAndGlyphs">M</text><text x="514.75" y="302.0">i</text><text x="524.25" y="302.0" textLength="8.3" lengthAdjust="spacingAndGlyphs">x</text><text x="533.75" y="302.0">i</text><text x="543.25" y="302.0" textLength="8.3" lengthAdjust="spacingAndGlyphs">n</text><text x="552.75" y="302.0" textLength="8.3" lengthAdjust="spacingAndGlyphs">g</text><text x="571.75" y="302.0" textLength="8.3" lengthAdjust="spacingAndGlyphs">K</text><text x="581.25" y="302.0" textLength="8.3" lengthAdjust="spacingAndGlyphs">n</text><text x="590.75" y="302.0">i</text><text x="600.25" y="302.0">f</text><text x="609.75" y="302.0">e</text>
<text x="572.15" y="351.5" textLength="8.3" lengthAdjust="spacingAndGlyphs">D</text><text x="581.65" y="351.5">i</text><text x="591.15" y="351.5">s</text><text x="600.65" y="351.5">c</text><text x="610.15" y="351.5" textLength="8.3" lengthAdjust="spacingAndGlyphs">h</text><text x="619.65" y="351.5">a</text><text x="629.15" y="351.5">r</text><text x="638.65" y="351.5" textLength="8.3" lengthAdjust="spacingAndGlyphs">g</text><text x="648.15" y="351.5">e</text><text x="667.15" y="351.5" textLength="8.3" lengthAdjust="spacingAndGlyphs">C</text><text x="676.65" y="351.5" textLength="8.3" lengthAdjust="spacingAndGlyphs">y</text><text x="686.15" y="351.5">l</text><text x="695.65" y="351.5">i</text><text x="705.15" y="351.5" textLength="8.3" lengthAdjust="spacingAndGlyphs">n</text><text x="714.65" y="351.5" textLength="8.3" lengthAdjust="spacingAndGlyphs">d</text><text x="724.15" y="351.5">e</text><text x="733.65" y="351.5">r</text>
<text x="550.75" y="504.5" textLength="8.3" lengthAdjust="spacingAndGlyphs">D</text><text x="560.25" y="504.5">i</text><text x="569.75" y="504.5">s</text><text x="579.25" y="504.5">c</text><text x="588.75" y="504.5" textLength="8.3" lengthAdjust="spacingAndGlyphs">h</text><text x="598.25" y="504.5">a</text><text x="607.75" y="504.5">r</text><text x="617.25" y="504.5" textLength="8.3" lengthAdjust="spacingAndGlyphs">g</text><text x="626.75" y="504.5">e</text><text x="645.75" y="504.5" textLength="8.3" lengthAdjust="spacingAndGlyphs">H</text><text x="655.25" y="504.5" textLength="8.3" lengthAdjust="spacingAndGlyphs">o</text><text x="664.75" y="504.5">l</text><text x="674.25" y="504.5">e</text>
<text x="533.95" y="550.7" textLength="8.3" lengthAdjust="spacingAndGlyphs">M</text><text x="543.45" y="550.7">a</text><text x="552.95" y="550.7">i</text><text x="562.45" y="550.7" textLength="8.3" lengthAdjust="spacingAndGlyphs">n</text><text x="581.45" y="550.7" textLength="8.3" lengthAdjust="spacingAndGlyphs">S</text><text x="590.95" y="550.7" textLength="8.3" lengthAdjust="spacingAndGlyphs">h</text><text x="600.45" y="550.7">a</text><text x="609.95" y="550.7">f</text><text x="619.45" y="550.7">t</text>
</g>
<g fill="none" stroke="#2b2b2b" stroke-width="0.9">
<path d="M197.6 190 H284.7 L332.4 311"/>
<path d="M483.4 190.5 H410.4 L334 239.6"/>
<path d="M143 251.5 H228.5 L289.6 291"/>
<path d="M71 282.1 H142 L133.2 328"/>
<path d="M715 244.3 H526.9 L443 306"/>
<path d="M614.4 309.8 H521.6 L386.6 377.4"/>
<path d="M738.6 357.9 H595.5 L593.8 403.4"/>
<path d="M678 510.7 H563.5 L512 463.5"/>
<path d="M624 555.2 H534.7 L371.3 432.7"/>
</g>
<path d="M332.4 311.0 L327.2 301.7 L329.9 300.7 Z" fill="#1a1a1a" stroke="none"/>
<path d="M334.0 239.6 L340.9 233.6 L342.3 235.8 Z" fill="#1a1a1a" stroke="none"/>
<path d="M289.6 291.0 L280.0 286.5 L281.5 284.1 Z" fill="#1a1a1a" stroke="none"/>
<path d="M133.2 328.0 L133.8 317.4 L136.6 318.0 Z" fill="#1a1a1a" stroke="none"/>
<path d="M443.0 306.0 L450.6 298.7 L452.3 300.9 Z" fill="#1a1a1a" stroke="none"/>
<path d="M386.6 377.4 L394.1 372.2 L395.2 374.5 Z" fill="#1a1a1a" stroke="none"/>
<path d="M593.8 403.4 L592.8 392.4 L595.6 392.5 Z" fill="#1a1a1a" stroke="none"/>
<path d="M512.0 463.5 L518.2 467.1 L516.1 469.4 Z" fill="#1a1a1a" stroke="none"/>
<path d="M371.3 432.7 L380.2 437.5 L378.4 439.9 Z" fill="#1a1a1a" stroke="none"/>
<g fill="none" stroke="#c6c6c6" stroke-opacity="0.92" stroke-width="0.9" font-weight="bold">
<text transform="translate(136.2,373) rotate(-39)" x="1.9" y="0" font-size="23.7" textLength="216.6" lengthAdjust="spacingAndGlyphs">MC MACHINERY</text>
<text transform="translate(477,367) rotate(-40.4)" x="2" y="0" font-size="25.4" textLength="234.5" lengthAdjust="spacingAndGlyphs">MC MACHINERY</text>
<text transform="translate(168,604.5) rotate(-39.8)" x="1.9" y="0" font-size="23.7" textLength="216.6" lengthAdjust="spacingAndGlyphs">MC MACHINERY</text>
<text transform="translate(519,614) rotate(-39)" x="1.9" y="0" font-size="23.7" textLength="216.6" lengthAdjust="spacingAndGlyphs">MC MACHINERY</text>
</g>
</svg>
</body></html>
